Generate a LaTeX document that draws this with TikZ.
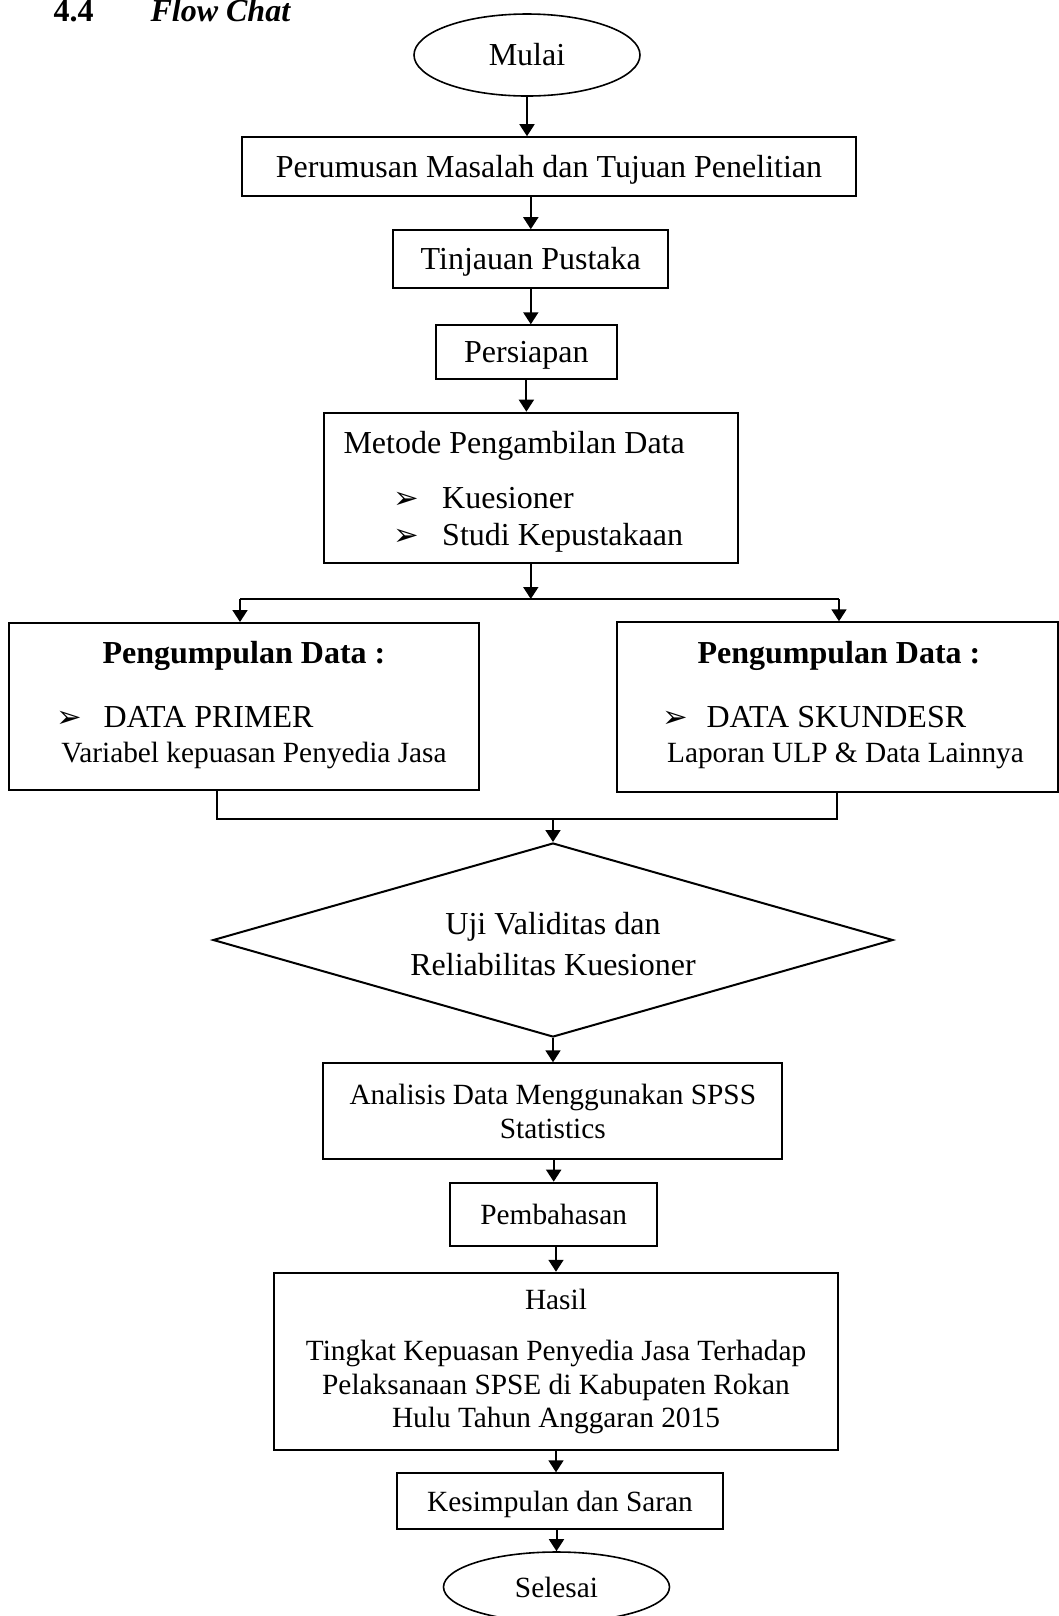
\documentclass[tikz,border=0pt]{standalone}
\usepackage{fontspec}
\setmainfont{Liberation Serif}
\newfontfamily\panahfont{DejaVu Sans}
\usetikzlibrary{positioning}
\usetikzlibrary{shapes.geometric}
\usetikzlibrary{arrows.meta}

\newdimen\pxu
\pxu=0.375pt

\newcommand{\besar}{\fontsize{12}{15}\selectfont}
\newcommand{\kecil}{\fontsize{11}{12.5}\selectfont}
\newcommand{\panah}{{\panahfont\fontsize{11.5}{11.5}\selectfont ➢}}

\tikzset{
  kotak/.style={draw, line width=0.75pt, inner sep=0pt, align=center},
  satu/.style={text height=7.8pt, text depth=0pt},
  teks/.style={anchor=base west, inner sep=0pt},
  terminal/.style={draw, ellipse, line width=0.6pt, inner sep=0pt, text height=7.8pt, text depth=0pt},
  alir/.style={-{Triangle[width=5.6pt,length=4.5pt]}, line width=0.75pt},
  gabung/.style={line width=0.5pt},
}

\begin{document}
\begin{tikzpicture}[x=0.375pt, y=-0.375pt, font=\besar]

\useasboundingbox (0,0) rectangle (1059,1616);

%judul
\node[teks, font=\besar\bfseries] (nomor) at (53,21) {4.4};
\node[teks, font=\besar\bfseries\itshape] (judul) at (150,21) {Flow Chat};

%%%%%%%  alur bagian atas  %%%%%%%
\node[terminal, minimum width=226\pxu, minimum height=82\pxu] (mulai) at (527,55) {Mulai};
\node[kotak, satu, minimum width=614\pxu, minimum height=59\pxu] (rumus) at (549,166.7) {Perumusan Masalah dan Tujuan Penelitian};
\node[kotak, satu, minimum width=275\pxu, minimum height=58\pxu] (tinjau) at (530.8,259.2) {Tinjauan Pustaka};
\node[kotak, satu, minimum width=181\pxu, minimum height=54\pxu] (siap) at (526.4,352.3) {Persiapan};

%metode
\node[kotak, minimum width=414.5\pxu, minimum height=150\pxu] (metode) at (530.8,487.7) {};
\node[teks] (metodejudul) at (343,453.3) {Metode Pengambilan Data};
\foreach \y/\isi [count=\i] in {508.3/Kuesioner, 545/Studi Kepustakaan}
{
\node[teks] (metodetanda\i) at (393,\y) {\panah};
\node[teks] (metodeisi\i) at (441.7,\y) {\isi};
}

%%%%%%%  pengumpulan data  %%%%%%%
\node[kotak, minimum width=469.7\pxu, minimum height=167\pxu] (kiri) at (244.2,706.5) {};
\node[kotak, minimum width=441.3\pxu, minimum height=169.4\pxu] (kanan) at (837.4,707) {};

%isi kotak kiri
\node[anchor=base, inner sep=0pt, font=\besar\bfseries] (kirijudul) at (244,663) {Pengumpulan Data :};
\node[teks] (kiritanda) at (56,727) {\panah};
\node[teks] (kiriisi) at (103,727) {DATA PRIMER};
\node[anchor=base, inner sep=0pt, font=\kecil] (kiriket) at (254,762) {Variabel kepuasan Penyedia Jasa};

%isi kotak kanan
\node[anchor=base, inner sep=0pt, font=\besar\bfseries] (kananjudul) at (839,663) {Pengumpulan Data :};
\node[teks] (kanantanda) at (662,727) {\panah};
\node[teks] (kananisi) at (706,727) {DATA SKUNDESR};
\node[anchor=base, inner sep=0pt, font=\kecil] (kananket) at (845.5,762) {Laporan ULP \& Data Lainnya};

%%%%%%%  alur bagian bawah  %%%%%%%
\node[draw, diamond, aspect=3.5, line width=0.75pt, inner sep=0pt, minimum width=680\pxu, minimum height=194\pxu, align=center, font=\fontsize{12}{15.6}\selectfont] (uji) at (553,940) {\rule{0pt}{11.5pt}Uji Validitas dan\\Reliabilitas Kuesioner};
\node[kotak, minimum width=459\pxu, minimum height=96\pxu, font=\kecil] (analisis) at (552.8,1111.3) {Analisis Data Menggunakan SPSS\\Statistics};
\node[kotak, satu, minimum width=207.3\pxu, minimum height=63\pxu, font=\kecil] (bahas) at (553.7,1214.2) {Pembahasan};
\node[kotak, minimum width=564\pxu, minimum height=177.3\pxu, font=\kecil] (hasil) at (556,1361.4) {Hasil\\[6.9pt]Tingkat Kepuasan Penyedia Jasa Terhadap\\Pelaksanaan SPSE di Kabupaten Rokan\\Hulu Tahun Anggaran 2015};
\node[kotak, satu, minimum width=325.7\pxu, minimum height=56\pxu, font=\kecil] (simpul) at (560,1501.3) {Kesimpulan dan Saran};
\node[terminal, minimum width=226\pxu, minimum height=70\pxu, font=\kecil] (selesai) at (556.5,1587) {Selesai};

%percabangan dan penggabungan
\coordinate (bagiL) at (240,599);
\coordinate (bagiR) at (839,599);
\coordinate (gabungL) at (217,819);
\coordinate (gabungR) at (837,819);

%Panah
{
\draw[alir] (mulai.south) -- (mulai.south |- rumus.north);
\draw[alir] (tinjau.north |- rumus.south) -- (tinjau.north);
\draw[alir] (tinjau.south) -- (tinjau.south |- siap.north);
\draw[alir] (siap.south) -- (siap.south |- metode.north);
\draw[alir] (metode.south) -- (metode.south |- bagiL);
\draw[gabung] (bagiL) -- (bagiR);
\draw[alir] (bagiL) -- (bagiL |- kiri.north);
\draw[alir] (bagiR) -- (bagiR |- kanan.north);
\draw[gabung] (gabungL |- kiri.south) -- (gabungL) -- (gabungR) -- (gabungR |- kanan.south);
\draw[alir] (uji.north |- gabungL) -- (uji.north);
\draw[alir] (uji.south) -- (uji.south |- analisis.north);
\draw[alir] (bahas.north |- analisis.south) -- (bahas.north);
\draw[alir] (hasil.north |- bahas.south) -- (hasil.north);
\draw[alir] (hasil.south) -- (hasil.south |- simpul.north);
\draw[alir] (selesai.north |- simpul.south) -- (selesai.north);
}

\end{tikzpicture}
\end{document}
